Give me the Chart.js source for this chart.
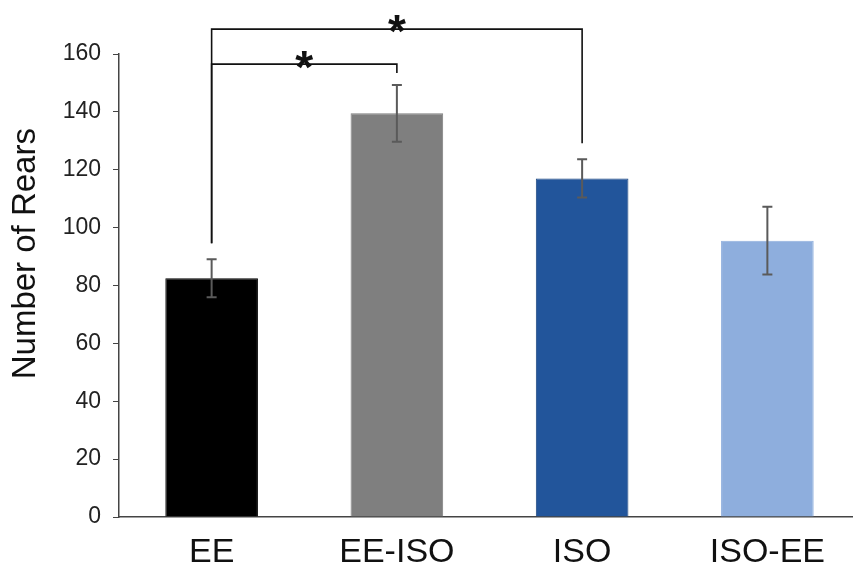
<!DOCTYPE html>
<html>
<head>
<meta charset="utf-8">
<title>Number of Rears</title>
<script src="https://cdn.jsdelivr.net/npm/chart.js@4"></script>
<style>
  html, body { margin: 0; padding: 0; background: #ffffff; overflow: hidden; }
  #wrap { width: 853px; height: 562px; position: relative; overflow: hidden; }
</style>
</head>
<body>
<div id="wrap"><canvas id="chart" width="860" height="562"></canvas></div>
<script>
// Groups and their mean rear counts with standard error
const groups = ['EE', 'EE-ISO', 'ISO', 'ISO-EE'];
const meanRears = [82.5, 139.5, 117.0, 95.5];
const semRears = [6.6, 9.8, 6.6, 11.7];
const barColors = ['#000000', '#7f7f7f', '#22559b', '#8eaedd'];
const barBorders = ['#000000', '#7f7f7f', '#1b467f', '#8eaedd'];
const yTicks = [0, 20, 40, 60, 80, 100, 120, 140, 160];
const yAxisTitle = 'Number of Rears';

// Significance brackets: group indices, bracket height and leg ends (data units)
const brackets = [
  { from: 0, to: 2, level: 168.6, fromEnd: 94.6, toEnd: 129.2, mark: '*', lift: 18 },
  { from: 0, to: 1, level: 156.5, fromEnd: 94.6, toEnd: 153.4, mark: '*', lift: 19 }
];

const FONT = '"Liberation Sans", Arial, Helvetica, sans-serif';

const errorBars = {
  id: 'errorBars',
  afterDatasetsDraw(chart) {
    const ctx = chart.ctx;
    const y = chart.scales.y;
    const meta = chart.getDatasetMeta(0);
    ctx.save();
    ctx.strokeStyle = '#5a5a5a';
    ctx.lineWidth = 2;
    meta.data.forEach((bar, i) => {
      const top = y.getPixelForValue(meanRears[i] + semRears[i]);
      const bot = y.getPixelForValue(meanRears[i] - semRears[i]);
      const x = bar.x;
      ctx.beginPath();
      ctx.moveTo(x, top); ctx.lineTo(x, bot);
      ctx.moveTo(x - 5, top); ctx.lineTo(x + 5, top);
      ctx.moveTo(x - 5, bot); ctx.lineTo(x + 5, bot);
      ctx.stroke();
    });
    ctx.restore();
  }
};

const sigBrackets = {
  id: 'sigBrackets',
  afterDraw(chart) {
    const ctx = chart.ctx;
    const y = chart.scales.y;
    const meta = chart.getDatasetMeta(0);
    ctx.save();
    ctx.strokeStyle = '#111111';
    ctx.lineWidth = 1.6;
    ctx.fillStyle = '#111111';
    ctx.font = 'bold 46px ' + FONT;
    ctx.textAlign = 'center';
    ctx.textBaseline = 'alphabetic';
    brackets.forEach(b => {
      const x0 = meta.data[b.from].x;
      const x1 = meta.data[b.to].x;
      const ly = y.getPixelForValue(b.level);
      ctx.beginPath();
      ctx.moveTo(x0, y.getPixelForValue(b.fromEnd));
      ctx.lineTo(x0, ly);
      ctx.lineTo(x1, ly);
      ctx.lineTo(x1, y.getPixelForValue(b.toEnd));
      ctx.stroke();
      ctx.fillText(b.mark, (x0 + x1) / 2, ly + b.lift);
    });
    ctx.restore();
  }
};

// Vertical axis title, placed slightly above the centre of the value axis
const axisTitle = {
  id: 'axisTitle',
  afterDraw(chart) {
    const ctx = chart.ctx;
    const y = chart.scales.y;
    ctx.save();
    ctx.translate(35, y.getPixelForValue(91));
    ctx.rotate(-Math.PI / 2);
    ctx.fillStyle = '#111111';
    ctx.font = '33px ' + FONT;
    ctx.textAlign = 'center';
    ctx.textBaseline = 'alphabetic';
    ctx.fillText(yAxisTitle, 0, 0);
    ctx.restore();
  }
};

new Chart(document.getElementById('chart'), {
  type: 'bar',
  data: {
    labels: groups,
    datasets: [{
      data: meanRears,
      backgroundColor: barColors,
      borderColor: barBorders,
      borderWidth: 1,
      categoryPercentage: 1.0,
      barPercentage: 0.5
    }]
  },
  options: {
    responsive: false,
    animation: false,
    events: [],
    layout: { padding: { top: 54, right: 0, left: 0, bottom: 0 } },
    plugins: { legend: { display: false }, tooltip: { enabled: false } },
    scales: {
      x: {
        grid: { display: true, drawOnChartArea: false, drawTicks: false },
        border: { display: true, color: '#444444', width: 1.5 },
        ticks: { color: '#111111', font: { family: FONT, size: 34 }, padding: 15 },
        afterFit(scale) { scale.height = 45; }
      },
      y: {
        min: 0,
        max: 160,
        afterBuildTicks(scale) { scale.ticks = yTicks.map(v => ({ value: v })); },
        grid: { display: true, drawOnChartArea: false, drawTicks: true, tickLength: 6, color: '#444444' },
        border: { display: true, color: '#444444', width: 1.5 },
        ticks: { color: '#222222', font: { family: FONT, size: 23 }, padding: 12 },
        title: { display: false },
        afterFit(scale) { scale.width = 119; }
      }
    }
  },
  plugins: [errorBars, sigBrackets, axisTitle]
});
</script>
</body>
</html>
